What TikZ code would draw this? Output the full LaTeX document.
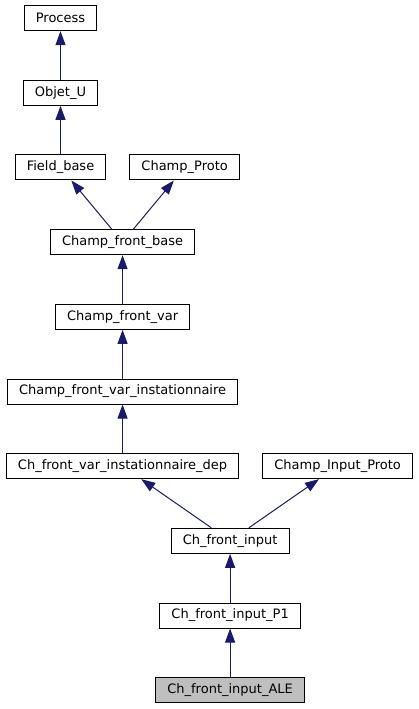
\documentclass[tikz,border=0pt]{standalone}
\usepackage{fontspec}
\setmainfont{DejaVu Sans}
\usepackage{tikz}
\usetikzlibrary{arrows.meta,positioning,calc}
\definecolor{edgeblue}{HTML}{191970}
\definecolor{curgray}{HTML}{BFBFBF}
\tikzset{
    %Define standard arrow tip
    >={Triangle[length=10.5pt,width=7.5pt]},
    %Define style for boxes
    classbox/.style={
           rectangle,
           draw=black, line width=0.75pt,
           fill=white,
           minimum height=18.75pt,
           inner xsep=8.7pt,
           inner ysep=0pt,
           font=\fontsize{9.75pt}{11pt}\selectfont,
           text centered,
           },
    current/.style={
           classbox,
           fill=curgray,
           },
    % Define arrow style
    inh/.style={
           ->,
           color=edgeblue,
           line width=0.75pt,}
}
\begin{document}
\begin{tikzpicture}[node distance=36.5pt and 17.25pt]
\useasboundingbox (0,0) rectangle (313.5pt,-531.75pt);
 %nodes
\node[classbox] (fb) at (45.375pt,-125.625pt) {Field\_base};
\node[classbox, right=of fb] (cp) {Champ\_Proto};
\node[classbox, above=of fb] (obj) {Objet\_U};
\node[classbox, above=of obj] (proc) {Process};
\coordinate (fbmid) at ($(fb.south)!0.5!(cp.south)$);
\node[classbox, below=of fbmid] (cfb) {Champ\_front\_base};
\node[classbox, below=of cfb] (cfv) {Champ\_front\_var};
\node[classbox, below=of cfv] (cfvi) {Champ\_front\_var\_instationnaire};
\node[classbox, below=of cfvi] (cfvid) {Ch\_front\_var\_instationnaire\_dep};
\node[classbox, right=of cfvid] (cip) {Champ\_Input\_Proto};
\coordinate (inmid) at ($(cfvid.south)!0.5!(cip.south)$);
\node[classbox, below=of inmid] (cfi) {Ch\_front\_input};
\node[classbox, below=of cfi] (cfip) {Ch\_front\_input\_P1};
\node[current, below=of cfip] (ale) {Ch\_front\_input\_ALE};
 %edges
\path[inh]
    (obj) edge (proc)
    (fb) edge (obj)
    (cfb) edge (fb) edge (cp)
    (cfv) edge (cfb)
    (cfvi) edge (cfv)
    (cfvid) edge (cfvi)
    (cfi) edge (cfvid) edge (cip)
    (cfip) edge (cfi)
    (ale) edge (cfip);
\end{tikzpicture}
\end{document}
